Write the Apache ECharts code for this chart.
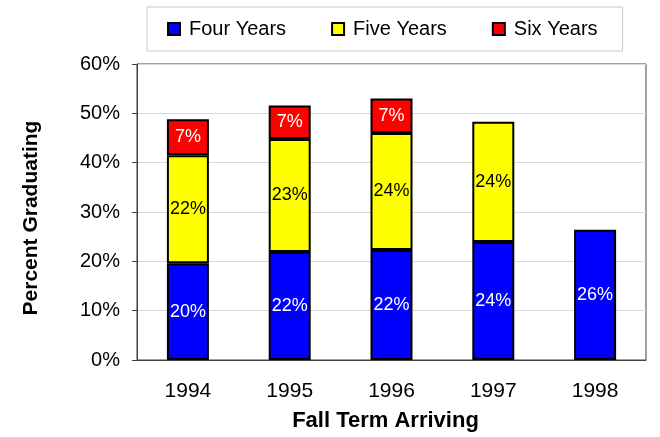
<!DOCTYPE html>
<html>
<head>
<meta charset="utf-8">
<script src="https://cdn.jsdelivr.net/npm/echarts@6/dist/echarts.min.js"></script>
<style>
  html, body { margin: 0; padding: 0; background: #fff; }
  #chart { width: 660px; height: 437px; }
</style>
</head>
<body>
<div id="chart"></div>
<script>
const years = ["1994", "1995", "1996", "1997", "1998"];
const fourYears = [19.6, 21.9, 22.3, 23.9, 26.4];
const fiveYears = [21.9, 22.9, 23.7, 24.4, null];
const sixYears = [7.3, 6.8, 7.0, null, null];
const yTicks = [0, 10, 20, 30, 40, 50, 60];

const font = "Liberation Sans, Arial, sans-serif";

function barSeries(name, data, color, labelColor) {
  return {
    name: name,
    type: "bar",
    stack: "grad",
    barWidth: 42,
    data: data,
    itemStyle: { color: color, borderColor: "#000", borderWidth: 2 },
    label: {
      show: true,
      position: "inside",
      color: labelColor,
      fontFamily: font,
      fontSize: 18,
      formatter: (p) => Math.round(p.value) + "%",
    },
  };
}

const chart = echarts.init(document.getElementById("chart"));
chart.setOption({
  animation: false,
  textStyle: { fontFamily: font },
  legend: {
    left: 147,
    top: 7,
    padding: [12, 25, 12, 20],
    borderColor: "#c8c8c8",
    borderWidth: 1,
    itemWidth: 12,
    itemHeight: 12,
    itemGap: 45,
    icon: "rect",
    textStyle: { fontSize: 20, color: "#000", fontFamily: font, padding: [0, 0, 0, 4] },
  },
  grid: {
    left: 137,
    right: 14,
    top: 64,
    bottom: 74,
    show: true,
    borderColor: "#404040",
    borderWidth: 1,
  },
  xAxis: {
    type: "category",
    data: years,
    name: "Fall Term Arriving",
    nameLocation: "middle",
    nameGap: 50,
    nameTextStyle: { fontSize: 22, fontWeight: "bold", color: "#000", fontFamily: font, padding: [0, 12, 0, 0] },
    axisLine: { lineStyle: { color: "#404040" } },
    axisTick: { length: 5, lineStyle: { color: "#404040" } },
    axisLabel: { fontSize: 21, color: "#000", margin: 21, fontFamily: font },
  },
  yAxis: {
    type: "value",
    min: yTicks[0],
    max: yTicks[yTicks.length - 1],
    interval: 10,
    name: "Percent Graduating",
    nameLocation: "middle",
    nameGap: 95,
    nameTextStyle: { fontSize: 21, fontWeight: "bold", color: "#000", fontFamily: font, padding: [0, 12, 0, 0] },
    axisLine: { show: true, lineStyle: { color: "#404040" } },
    axisTick: { show: true, length: 5, lineStyle: { color: "#404040" } },
    axisLabel: { fontSize: 20, color: "#000", margin: 17, formatter: "{value}%", fontFamily: font },
    splitLine: { lineStyle: { color: "#d9d9d9", width: 1 } },
  },
  series: [
    barSeries("Four Years", fourYears, "#0000ff", "#fff"),
    barSeries("Five Years", fiveYears, "#ffff00", "#000"),
    barSeries("Six Years", sixYears, "#ff0000", "#fff"),
  ],
});
</script>
</body>
</html>
